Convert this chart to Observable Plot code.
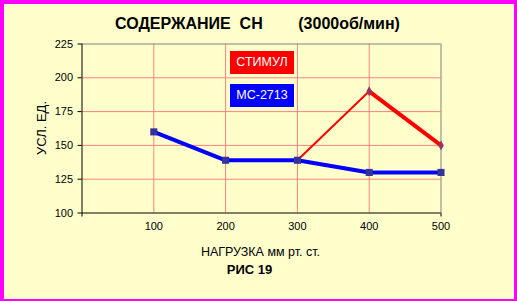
<!DOCTYPE html>
<html>
<head>
<meta charset="utf-8">
<script src="https://cdn.jsdelivr.net/npm/d3@7"></script>
<script src="https://cdn.jsdelivr.net/npm/@observablehq/plot@0.6"></script>
<style>
  html, body { margin: 0; padding: 0; background: #fff; }
  #wrap {
    position: relative; width: 517px; height: 301px; box-sizing: border-box;
    background: #FFFFCC; border-style: solid; border-color: #FF00FF;
    border-width: 4px 3px 2px 4px; overflow: hidden;
    font-family: Arial, "Liberation Sans", sans-serif; color: #000;
  }
  #chart { position: absolute; left: -4px; top: -4px; width: 517px; height: 301px; }
  #chart svg { max-width: none !important; display: block; }
  .abs { position: absolute; white-space: pre; }
  #title { left: -4px; width: 517px; text-align: center; top: 11px; font-size: 16px; font-weight: bold; margin-left: -1px; }
  #xlab { left: -4px; width: 517px; text-align: center; top: 241px; font-size: 12.5px; margin-left: 2px; }
  #fig { left: -4px; width: 517px; text-align: center; top: 258px; font-size: 13px; font-weight: bold; margin-left: -9px; }
  #ylab { left: 37px; top: 124px; font-size: 13px; transform: translate(-50%, -50%) rotate(-90deg); }
  .leg { position: absolute; color: #fff; font-size: 12.5px; text-align: center; line-height: 23px; }
</style>
</head>
<body>
<div id="wrap">
  <div id="chart"></div>
  <div id="title" class="abs">СОДЕРЖАНИЕ  СН        (3000об/мин)</div>
  <div id="ylab" class="abs">УСЛ. ЕД.</div>
  <div id="xlab" class="abs">НАГРУЗКА мм рт. ст.</div>
  <div id="fig" class="abs">РИС 19</div>
</div>
<script>
// Data
const loads = [100, 200, 300, 400, 500];
const mcValues = [160, 139, 139, 130, 130];          // МС-2713 (blue)
const stimLoads = [300, 400, 500];
const stimValues = [139, 190, 150];                   // СТИМУЛ (red)
const seriesNames = ["СТИМУЛ", "МС-2713"];
const yTicks = [100, 125, 150, 175, 200, 225];
const xTicks = [100, 200, 300, 400, 500];
const xDomain = [0, 500];

const mc = loads.map((x, i) => ({x, y: mcValues[i]}));
const stim = stimLoads.map((x, i) => ({x, y: stimValues[i]}));
const stimSegs = stim.slice(1).map((d, i) => ({x1: stim[i].x, y1: stim[i].y, x2: d.x, y2: d.y, w: i === 0 ? 2 : 4}));

const W = 517, H = 301;
const mL = 81.5, mR = W - 440.5, mT = 43.5, mB = H - 212.5;
const yDomain = [yTicks[0], yTicks[yTicks.length - 1]];

const plot = Plot.plot({
  width: W, height: H,
  marginLeft: mL, marginRight: mR, marginTop: mT, marginBottom: mB,
  style: {background: "transparent", fontFamily: "Arial, 'Liberation Sans', sans-serif", fontSize: "11px", color: "#000", maxWidth: "none"},
  x: {domain: xDomain, type: "linear"},
  y: {domain: yDomain},
  marks: [
    Plot.gridY(yTicks.slice(1, -1), {stroke: "#FF8080", strokeOpacity: 1}),
    Plot.gridX(xTicks.slice(0, -1), {stroke: "#FF8080", strokeOpacity: 1}),
    Plot.ruleY([yDomain[1]], {stroke: "#808080"}),
    Plot.ruleX([xDomain[1]], {stroke: "#808080"}),
    Plot.ruleY([yDomain[0]], {stroke: "#000"}),
    Plot.ruleX([xDomain[0]], {stroke: "#000"}),
    Plot.axisY(yTicks, {tickSize: 4, tickPadding: 5, label: null, fontSize: 11, stroke: "#000"}),
    Plot.axisX(xDomain, {tickSize: 4, tickFormat: () => "", label: null, stroke: "#000"}),
    Plot.axisX(xTicks, {tickSize: 0, tickPadding: 9, label: null, fontSize: 11}),
    Plot.link(stimSegs, {x1: "x1", y1: "y1", x2: "x2", y2: "y2", stroke: "#FF0000", strokeWidth: d => d.w, strokeLinecap: "butt"}),
    Plot.dot(stim.slice(1), {x: "x", y: "y", symbol: "diamond", r: 3, fill: "#993366", stroke: "none"}),
    Plot.line(mc, {x: "x", y: "y", stroke: "#0000FF", strokeWidth: 4}),
    Plot.dot(mc, {x: "x", y: "y", symbol: "square", r: 4, fill: "#333399", stroke: "none"})
  ]
});
document.getElementById("chart").appendChild(plot);

// Legend boxes
const legColors = ["#FF0000", "#0000FF"];
const legTops = [47, 80];
const wrap = document.getElementById("wrap");
seriesNames.forEach((name, i) => {
  const d = document.createElement("div");
  d.className = "leg";
  d.textContent = name;
  d.style.background = legColors[i];
  d.style.left = "226px";
  d.style.top = legTops[i] + "px";
  d.style.width = "64px";
  d.style.height = "23px";
  wrap.appendChild(d);
});
</script>
</body>
</html>
